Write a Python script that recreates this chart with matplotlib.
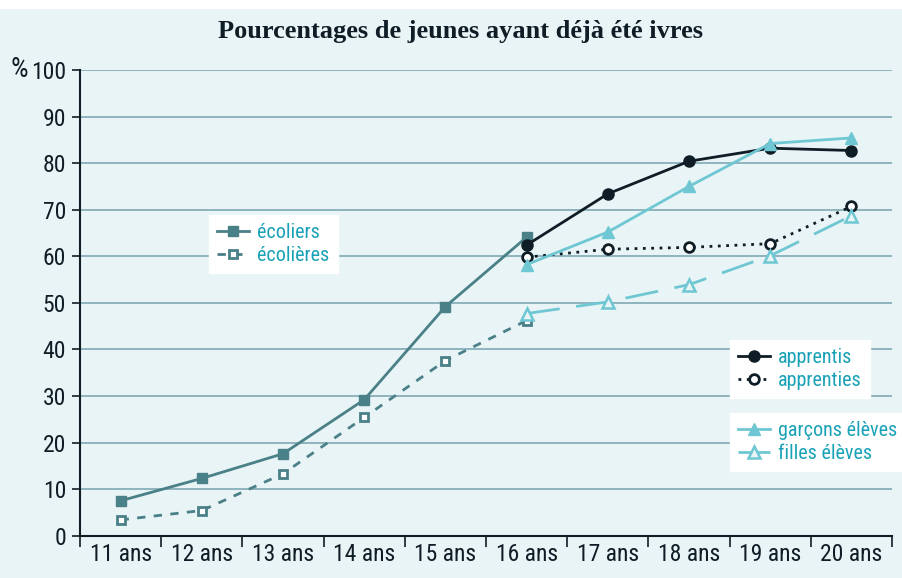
import matplotlib.pyplot as plt
from matplotlib.patches import Rectangle
import numpy as np

# data
ages = ["11 ans", "12 ans", "13 ans", "14 ans", "15 ans",
        "16 ans", "17 ans", "18 ans", "19 ans", "20 ans"]
ecoliers = [7.5, 12.3, 17.6, 29.2, 49.2, 64.1]
ecolieres = [3.4, 5.4, 13.3, 25.4, 37.6, 46.2]
apprentis = [62.4, 73.4, 80.4, 83.2, 82.7]
apprenties = [59.8, 61.5, 61.9, 62.7, 70.7]
garcons_eleves = [58.2, 65.2, 75.0, 84.2, 85.4]
filles_eleves = [47.7, 50.2, 53.9, 60.1, 68.7]

BG = "#e9f4f6"
TEAL = "#4a8087"
CYAN = "#6ec7d2"
DARK = "#0e1d26"
GRID = "#7fa9b3"
TXT = "#19a2b6"

plt.rcParams['font.family'] = ['Roboto Condensed', 'Roboto', 'DejaVu Sans']

fig = plt.figure(figsize=(9.02, 5.78), dpi=100, facecolor=BG)
fig.patches.append(Rectangle((0, 0.986), 1, 0.02, transform=fig.transFigure,
                             color="white", zorder=0))
ax = fig.add_axes([0.0887, 0.0732, 0.9003, 0.8058])
ax.set_facecolor(BG)

x_school = np.arange(0, 6)
x_older = np.arange(5, 10)

l1, = ax.plot(x_school, ecoliers, color=TEAL, lw=2, marker="s", ms=7,
              mfc=TEAL, mec=TEAL, label="écoliers", zorder=3)
l2, = ax.plot(x_school, ecolieres, color=TEAL, lw=2, ls=(0, (3, 3)), marker="s",
              ms=6, mfc="white", mec=TEAL, mew=2, label="écolières", zorder=3)
l3, = ax.plot(x_older, apprentis, color=DARK, lw=2, marker="o", ms=8,
              mfc=DARK, mec=DARK, label="apprentis", zorder=4)
l4, = ax.plot(x_older, apprenties, color=DARK, lw=2, ls=(0, (1, 2)), marker="o",
              ms=7, mfc="white", mec=DARK, mew=2, label="apprenties", zorder=4)
l5, = ax.plot(x_older, garcons_eleves, color=CYAN, lw=2, marker="^", ms=9,
              mfc=CYAN, mec=CYAN, label="garçons élèves", zorder=4)
l6, = ax.plot(x_older, filles_eleves, color=CYAN, lw=2, ls=(0, (12, 6)),
              marker="^", ms=8, mfc=BG, mec=CYAN, mew=1.8,
              label="filles élèves", zorder=4)

ax.set_xlim(-0.5, 9.5)
ax.set_ylim(0, 100)
ax.set_yticks(range(0, 101, 10))
ax.yaxis.grid(True, color=GRID, lw=1.2)
ax.set_axisbelow(True)
ax.set_xticks(np.arange(-0.5, 10, 1))
ax.set_xticklabels([])
ax.set_xticks(np.arange(0, 10), minor=True)
ax.set_xticklabels(ages, minor=True)
ax.tick_params(axis="x", which="major", length=8, width=1.2, color=DARK)
ax.tick_params(axis="x", which="minor", length=0, pad=5, labelsize=17, labelcolor=DARK)
ax.tick_params(axis="y", length=6, width=1.2, color=DARK, labelsize=17,
               labelcolor=DARK, pad=4)
for s in ["top", "right"]:
    ax.spines[s].set_visible(False)
for s in ["left", "bottom"]:
    ax.spines[s].set_color(DARK)
    ax.spines[s].set_linewidth(1.5)

ax.text(-0.064, 1.0, "%", transform=ax.transAxes, ha="right", va="center",
        fontsize=20, color=DARK)

fig.text(0.51, 0.945, "Pourcentages de jeunes ayant déjà été ivres",
         ha="center", va="center", fontsize=19, fontweight="bold",
         family=["Liberation Serif", "DejaVu Serif"], color=DARK)

leg_kw = dict(frameon=True, fancybox=False, framealpha=1, facecolor="white",
              edgecolor="white", fontsize=14.5, handlelength=1.6, handletextpad=0.4,
              labelcolor=TXT, borderpad=0.4, labelspacing=0.2, borderaxespad=0)
leg1 = ax.legend(handles=[l1, l2], loc="upper left",
                 bbox_to_anchor=(0.159, 0.689), **leg_kw)
ax.add_artist(leg1)
leg2 = ax.legend(handles=[l3, l4], loc="upper left",
                 bbox_to_anchor=(0.80, 0.420), **leg_kw)
ax.add_artist(leg2)
leg3 = ax.legend(handles=[l5, l6], loc="upper left",
                 bbox_to_anchor=(0.80, 0.263), **leg_kw)
for lg in (leg1, leg2, leg3):
    lg.set_zorder(5)

fig.savefig("out.png", dpi=100, facecolor=BG)
